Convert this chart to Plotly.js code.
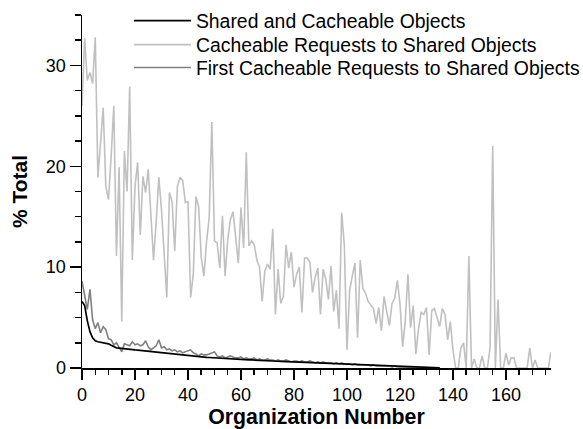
<!DOCTYPE html>
<html>
<head>
<meta charset="utf-8">
<script src="https://cdn.plot.ly/plotly-3.0.1.min.js"></script>
<style>html,body{margin:0;padding:0;background:#fff;}#chart{width:583px;height:429px;}</style>
</head>
<body>
<div id="chart"></div>
<script>
// Series values, indexed by organization number (0, 1, 2, ...)
const sharedCacheable = [
6.6,6.2,4.7,3.6,3.0,2.7,2.6,2.55,2.5,2.45,2.4,2.25,2.1,2.0,1.97,1.93,1.9,1.88,1.85,1.83,
1.8,1.78,1.75,1.72,1.7,1.67,1.63,1.6,1.57,1.53,1.5,1.47,1.44,1.41,1.38,1.35,1.32,1.29,1.26,1.23,
1.2,1.18,1.16,1.14,1.12,1.1,1.08,1.06,1.04,1.02,1.0,0.99,0.97,0.96,0.94,0.93,0.91,0.9,0.88,0.87,
0.85,0.84,0.82,0.81,0.8,0.78,0.77,0.76,0.74,0.73,0.72,0.71,0.7,0.68,0.67,0.66,0.65,0.63,0.62,0.61,
0.6,0.59,0.58,0.57,0.56,0.55,0.54,0.53,0.52,0.51,0.5,0.49,0.48,0.47,0.46,0.45,0.44,0.43,0.42,0.41,
0.4,0.39,0.38,0.37,0.36,0.35,0.34,0.33,0.32,0.31,0.3,0.29,0.28,0.27,0.26,0.25,0.24,0.23,0.22,0.21,
0.2,0.19,0.17,0.16,0.15,0.13,0.12,0.11,0.1,0.08,0.07,0.06,0.05,0.04,0.03,0.02
];
const cacheableRequests = [
26.0,32.7,28.5,29.3,28.2,32.8,18.9,22.5,25.8,18.0,16.7,21.0,26.0,11.1,19.9,4.6,21.5,17.5,27.9,10.7,
18.0,20.4,13.2,19.0,17.4,19.7,15.0,10.7,14.5,18.9,15.7,11.0,7.0,17.4,16.5,11.6,18.0,18.9,18.6,16.4,
16.5,7.0,9.3,17.0,16.0,11.0,9.1,12.5,14.9,24.4,12.6,12.4,9.9,15.1,9.1,12.7,14.7,15.5,12.7,10.4,
15.9,11.9,21.4,12.1,12.6,12.2,10.7,10.0,6.6,9.6,10.3,9.8,13.8,5.3,9.8,6.4,7.1,12.2,9.9,11.5,
8.0,9.3,10.0,5.5,10.9,10.9,10.5,7.5,9.0,9.9,5.3,9.8,8.8,6.8,10.1,5.6,7.7,3.9,15.4,12.2,
1.8,7.7,9.1,10.4,3.0,10.7,7.9,7.4,6.6,6.2,5.9,4.4,6.0,3.7,7.1,5.6,4.2,6.4,6.9,8.7,
6.4,2.1,4.7,9.3,4.0,6.2,1.4,3.9,5.5,5.3,6.0,1.3,5.7,5.9,5.1,4.1,5.9,5.3,2.8,4.6,
1.8,0,0,2.0,2.5,0,11.1,0,0.9,0,0,1.2,0,0,2.0,22.0,0,6.8,0,0,
1.5,0.3,1.0,1.0,0,0,0,0,0,2.0,0,0.8,0,0,0,0,0,1.6
];
const firstCacheableRequests = [
8.6,7.3,5.8,7.8,4.8,3.9,4.5,3.5,4.1,3.8,2.9,2.8,2.3,2.5,2.1,1.6,2.4,2.3,2.2,2.6,
2.3,2.4,2.2,2.3,2.7,2.1,1.8,2.0,2.2,2.8,2.0,2.1,1.8,1.9,1.7,1.8,1.6,1.7,1.5,1.6,
1.7,1.8,1.5,1.4,1.2,1.4,1.3,1.3,1.4,1.5,1.6,1.2,1.1,1.2,1.0,1.1,1.2,1.1,1.0,1.0,
1.1,0.9,1.0,0.9,0.9,1.0,0.8,0.9,0.8,0.8,0.9,0.8,0.8,0.7,0.8,0.7,0.7,0.8,0.7,0.6,
0.7,0.7,0.6,0.7,0.6,0.6,0.7,0.6,0.5,0.6,0.5,0.6,0.5,0.5,0.5,0.4,0.5,0.4,0.5,0.4,
0.4,0.4,0.3,0.4,0.3,0.3,0.3,0.3,0.3,0.2,0.3,0.2,0.2,0.2,0.2,0.2,0.2,0.1,0.2,0.1,
0.1,0.1,0.1,0.1,0.1,0.1,0.05,0.1,0.05,0.05,0.05,0.03,0.02,0.02,0.01,0
];
const xTickVals = [0,20,40,60,80,100,120,140,160];
const yTickVals = [0,10,20,30];

const orgs = arr => arr.map((_, i) => i);
const FONT = 'Liberation Sans, Arial, sans-serif';

const data = [
  {x: orgs(cacheableRequests), y: cacheableRequests, type: 'scatter', mode: 'lines',
   name: 'Cacheable Requests to Shared Objects', legend: 'legend2',
   line: {color: '#c0c0c0', width: 1.6}},
  {x: orgs(firstCacheableRequests), y: firstCacheableRequests, type: 'scatter', mode: 'lines',
   name: 'First Cacheable Requests to Shared Objects', legend: 'legend3',
   line: {color: '#808080', width: 1.6}},
  {x: orgs(sharedCacheable), y: sharedCacheable, type: 'scatter', mode: 'lines',
   name: 'Shared and Cacheable Objects', legend: 'legend',
   line: {color: '#000000', width: 1.7}}
];

function legendAt(yp) {
  return {x: 0.1, y: yp, xanchor: 'left', yanchor: 'middle', bgcolor: 'rgba(0,0,0,0)',
          borderwidth: 0, font: {family: FONT, size: 19.4, color: '#000'}, itemwidth: 57};
}

const layout = {
  width: 583, height: 429,
  margin: {l: 82, r: 32, t: 15, b: 61, pad: 0, autoexpand: false},
  paper_bgcolor: '#fff', plot_bgcolor: '#fff',
  font: {family: FONT, size: 18, color: '#000'},
  showlegend: true,
  legend: legendAt(0.983),
  legend2: legendAt(0.915),
  legend3: legendAt(0.850),
  xaxis: {
    range: [0, 177], showgrid: false, zeroline: false,
    showline: true, linecolor: '#000', linewidth: 1.5,
    ticks: 'outside', ticklen: 10, tickwidth: 1.5, tickcolor: '#000',
    tickvals: xTickVals, ticktext: xTickVals.map(String),
    tickfont: {family: FONT, size: 18, color: '#000'},
    minor: {dtick: 5, tick0: 0, ticks: 'outside', ticklen: 5, tickwidth: 1.5, tickcolor: '#000', showgrid: false},
    title: {text: '<b>Organization Number</b>', font: {family: FONT, size: 21.3, color: '#000'}, standoff: 9}
  },
  yaxis: {
    range: [0, 35], showgrid: false, zeroline: false,
    showline: true, linecolor: '#000', linewidth: 1.5,
    ticks: 'outside', ticklen: 11, tickwidth: 1.5, tickcolor: '#000',
    tickvals: yTickVals, ticktext: yTickVals.map(String),
    tickfont: {family: FONT, size: 18, color: '#000'},
    minor: {dtick: 2.5, tick0: 0, ticks: 'outside', ticklen: 6, tickwidth: 1.5, tickcolor: '#000', showgrid: false},
    title: {text: '<b>% Total</b>', font: {family: FONT, size: 21, color: '#000'}, standoff: 12}
  }
};

Plotly.newPlot('chart', data, layout, {displayModeBar: false, staticPlot: true});
</script>
</body>
</html>
